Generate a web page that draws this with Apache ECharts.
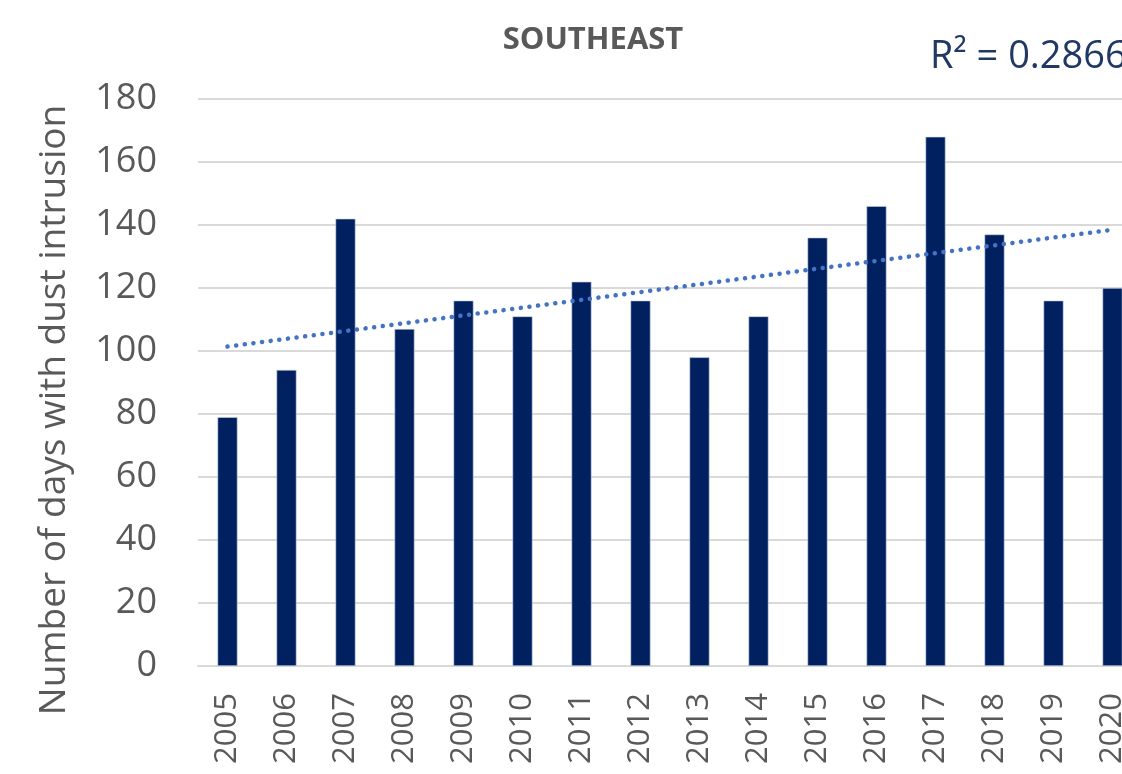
<!DOCTYPE html>
<html>
<head>
<meta charset="utf-8">
<script src="https://cdn.jsdelivr.net/npm/echarts@6/dist/echarts.min.js"></script>
<style>
    html, body { margin: 0; padding: 0; overflow: hidden; background: #fff; }
    #chart { width: 1160px; height: 774px; }
</style>
</head>
<body>
<div id="chart"></div>
<script>
    // data
    const years = ['2005','2006','2007','2008','2009','2010','2011','2012',
                   '2013','2014','2015','2016','2017','2018','2019','2020'];
    const dustDays = [79, 94, 142, 107, 116, 111, 122, 116, 98, 111, 136, 146, 168, 137, 116, 120];
    const trendEnds = [101.4, 138.5];   // linear trend at first and last year
    const rSquared = 'R² = 0.2866';
    const yTicks = { min: 0, max: 180, interval: 20 };

    const fontFam = '"Open Sans", sans-serif';
    const grey = '#595959';

    let chart = echarts.init(document.getElementById('chart'));
    let option = {
        animation: false,
        title: {
            text: 'SOUTHEAST',
            left: 588,
            top: 20,
            textAlign: 'center',
            textStyle: { color: grey, fontSize: 31, fontWeight: 'bold', fontFamily: fontFam }
        },
        graphic: [
            {
                type: 'text',
                left: 930,
                top: 38,
                style: { text: rSquared, fill: '#1F3864', fontSize: 38, fontFamily: fontFam }
            },
            {
                type: 'text',
                x: 54,
                y: 410,
                rotation: Math.PI / 2,
                style: {
                    text: 'Number of days with dust intrusion',
                    fill: grey, fontSize: 37, fontFamily: fontFam,
                    align: 'center', verticalAlign: 'middle'
                }
            }
        ],
        grid: { left: 198, top: 99, width: 944, height: 567 },
        xAxis: {
            type: 'category',
            data: years,
            axisLine: { lineStyle: { color: '#d9d9d9', width: 2 } },
            axisTick: { show: false },
            axisLabel: { rotate: 90, margin: 27, color: grey, fontSize: 31, fontFamily: fontFam }
        },
        yAxis: {
            type: 'value',
            min: yTicks.min,
            max: yTicks.max,
            interval: yTicks.interval,
            axisLine: { show: false },
            axisTick: { show: false },
            splitLine: { lineStyle: { color: '#d9d9d9', width: 2 } },
            axisLabel: { margin: 41, color: grey, fontSize: 36, fontFamily: fontFam }
        },
        series: [
            {
                name: 'days',
                type: 'bar',
                data: dustDays,
                barWidth: 20,
                itemStyle: { color: '#002060', borderColor: '#c9d3e6', borderWidth: 0.6 }
            },
            {
                name: 'trend',
                type: 'line',
                data: [[years[0], trendEnds[0]], [years[years.length - 1], trendEnds[1]]],
                symbol: 'none',
                lineStyle: { color: '#4472C4', width: 4.5, type: [0.1, 8.6], cap: 'round' },
                z: 5
            }
        ]
    };
    chart.setOption(option);
</script>
</body>
</html>
